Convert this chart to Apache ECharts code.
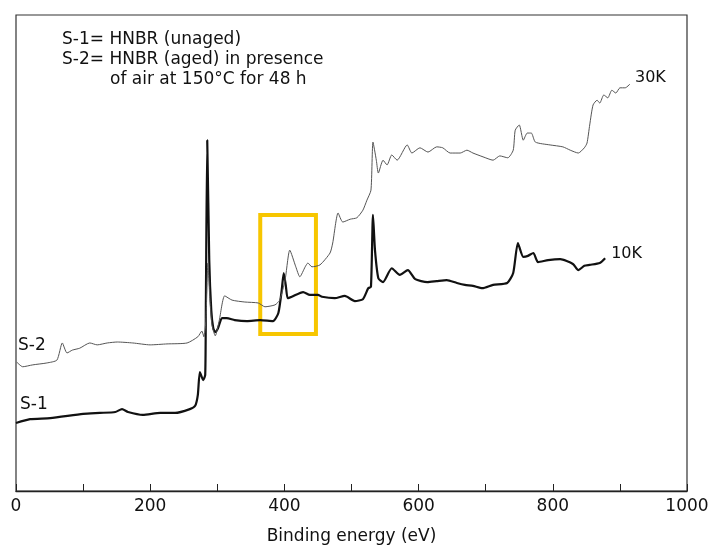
<!DOCTYPE html>
<html>
<head>
<meta charset="utf-8">
<script src="https://cdn.jsdelivr.net/npm/echarts@6/dist/echarts.min.js"></script>
<style>
  html, body { margin: 0; padding: 0; background: #fff; }
  #chart { width: 714px; height: 547px; }
</style>
</head>
<body>
<div id="chart"></div>
<script>
var FONT = "'DejaVu Sans', 'Liberation Sans', sans-serif";

// S-1 (unaged, 10K full scale): binding energy (eV) / relative intensity
var s1Energy = [0, 21, 51, 100, 125, 148, 158, 167, 189, 215, 237, 259, 267, 271, 274, 279, 282, 283, 285, 288, 291, 294,
  297, 301, 307, 314, 326, 344, 364, 383, 391, 396, 399, 402, 405, 411, 428, 438, 450, 456, 475, 490, 505, 517, 525,
  529, 532, 535, 540, 547, 560, 572, 584, 595, 613, 627, 642, 657, 669, 681, 695, 711, 732, 741, 748, 756, 763, 771,
  778, 793, 811, 830, 838, 847, 855, 870, 878];
var s1Counts = [14.3, 15.1, 15.3, 16.2, 16.4, 16.6, 17.2, 16.6, 16.0, 16.4, 16.4, 17.2, 17.9, 20.2, 25.0, 23.3, 24.4, 40.1,
  73.7, 48.5, 38.0, 34.2, 33.4, 34.2, 36.3, 36.3, 35.9, 35.7, 35.9, 35.7, 37.4, 42.2, 45.8, 43.3, 40.5, 40.8, 41.8,
  41.2, 41.2, 40.8, 40.5, 41.0, 39.9, 40.3, 42.6, 42.9, 58.0, 50.6, 44.7, 43.9, 46.8, 45.4, 46.4, 44.5, 43.9, 44.1,
  44.3, 43.7, 43.3, 43.1, 42.6, 43.3, 43.7, 45.8, 52.1, 49.2, 49.4, 50.0, 48.1, 48.5, 48.7, 47.7, 46.4, 47.3, 47.5,
  47.9, 48.9];

// S-2 (aged in air, 30K full scale)
var s2Energy = [1, 10, 25, 46, 61, 69, 76, 84, 95, 110, 121, 136, 151, 174, 200, 225, 255, 271, 277, 280, 283, 286, 289,
  292, 297, 303, 311, 322, 341, 361, 371, 386, 393, 401, 408, 417, 423, 431, 435, 441, 453, 468, 472, 480, 487, 498,
  508, 517, 523, 529, 532, 537, 540, 547, 553, 560, 568, 583, 590, 602, 614, 627, 636, 647, 662, 672, 681, 696, 711,
  721, 733, 741, 744, 750, 756, 762, 768, 774, 796, 815, 826, 838, 847, 851, 855, 860, 866, 870, 876, 882, 888, 894,
  900, 908, 915];
var s2Counts = [27.1, 26.1, 26.5, 26.9, 27.5, 31.1, 29.0, 29.6, 30.0, 31.1, 30.7, 31.1, 31.3, 31.1, 30.7, 30.9, 31.1,
  32.4, 33.6, 32.4, 35.9, 47.9, 40.1, 34.9, 32.6, 35.9, 41.0, 40.1, 39.7, 39.5, 38.7, 39.1, 40.1, 44.3, 50.6, 47.1,
  45.0, 47.1, 47.9, 47.1, 47.5, 50.0, 52.1, 58.4, 56.5, 57.1, 57.4, 59.0, 61.1, 63.2, 73.3, 69.5, 66.8, 69.5, 68.5,
  70.6, 69.5, 72.7, 71.0, 72.1, 71.2, 72.3, 72.1, 71.0, 71.0, 71.6, 71.0, 70.2, 69.5, 70.4, 70.0, 71.6, 75.8, 76.9,
  73.7, 75.2, 75.2, 73.3, 72.7, 72.3, 71.6, 71.0, 72.1, 73.1, 76.9, 81.1, 82.1, 81.5, 83.2, 82.6, 84.2, 83.6, 84.7,
  84.7, 85.5];

// highlighted region (yellow box)
var boxEnergy = [364, 447];
var boxCounts = [33, 58];

var xTicks = [0, 200, 400, 600, 800, 1000];

function pairs(xs, ys) {
  return xs.map(function(x, i) { return [x, ys[i]]; });
}

var chart = echarts.init(document.getElementById("chart"));

chart.setOption({
  animation: false,
  backgroundColor: "#fff",
  grid: { left: 16, right: 27, top: 15, bottom: 56, outerBoundsMode: "none", containLabel: false,
    show: true, borderColor: "#333", borderWidth: 1.2, backgroundColor: "transparent" },
  xAxis: {
    type: "value", min: 0, max: 1000, interval: 200,
    name: "Binding energy (eV)", nameLocation: "middle", nameGap: 37,
    nameTextStyle: { color: "#111", fontSize: 17, fontFamily: FONT },
    axisLine: { show: true, lineStyle: { color: "#222", width: 1.4 } },
    axisTick: { show: true, inside: true, length: 7, lineStyle: { color: "#222" } },
    minorTick: { show: true, splitNumber: 2, length: 7, lineStyle: { color: "#222" } },
    axisLabel: { color: "#111", fontSize: 17, fontFamily: FONT, margin: 7,
      formatter: function(v) { return xTicks.indexOf(v) >= 0 ? String(v) : ""; } },
    splitLine: { show: false }
  },
  yAxis: {
    type: "value", min: 0, max: 100,
    axisLine: { show: false }, axisTick: { show: false }, axisLabel: { show: false }, splitLine: { show: false }
  },
  series: [
    {
      name: "S-1", type: "line", data: pairs(s1Energy, s1Counts), smooth: 0.2, symbol: "none",
      lineStyle: { color: "#111", width: 2.2 },
      endLabel: { show: true, formatter: "10K", color: "#111", fontSize: 16, fontFamily: FONT, distance: 6, offset: [0, -4] }
    },
    {
      name: "S-2", type: "line", data: pairs(s2Energy, s2Counts), smooth: 0.2, symbol: "none",
      lineStyle: { color: "#555", width: 1 },
      endLabel: { show: true, formatter: "30K", color: "#111", fontSize: 16, fontFamily: FONT, distance: 5, offset: [0, -6] },
      markArea: {
        silent: true,
        itemStyle: { color: "transparent", borderColor: "#f7c600", borderWidth: 4 },
        data: [[{ coord: [boxEnergy[0], boxCounts[0]] }, { coord: [boxEnergy[1], boxCounts[1]] }]]
      }
    }
  ],
  graphic: [
    { type: "text", left: 62, top: 31, style: { text: "S-1= HNBR (unaged)", fill: "#111", font: "17px " + FONT } },
    { type: "text", left: 62, top: 51, style: { text: "S-2= HNBR (aged) in presence", fill: "#111", font: "17px " + FONT } },
    { type: "text", left: 110, top: 71, style: { text: "of air at 150\u00b0C for 48 h", fill: "#111", font: "17px " + FONT } },
    { type: "text", left: 18, top: 337, style: { text: "S-2", fill: "#111", font: "17px " + FONT } },
    { type: "text", left: 20, top: 396, style: { text: "S-1", fill: "#111", font: "17px " + FONT } }
  ]
});
</script>
</body>
</html>
